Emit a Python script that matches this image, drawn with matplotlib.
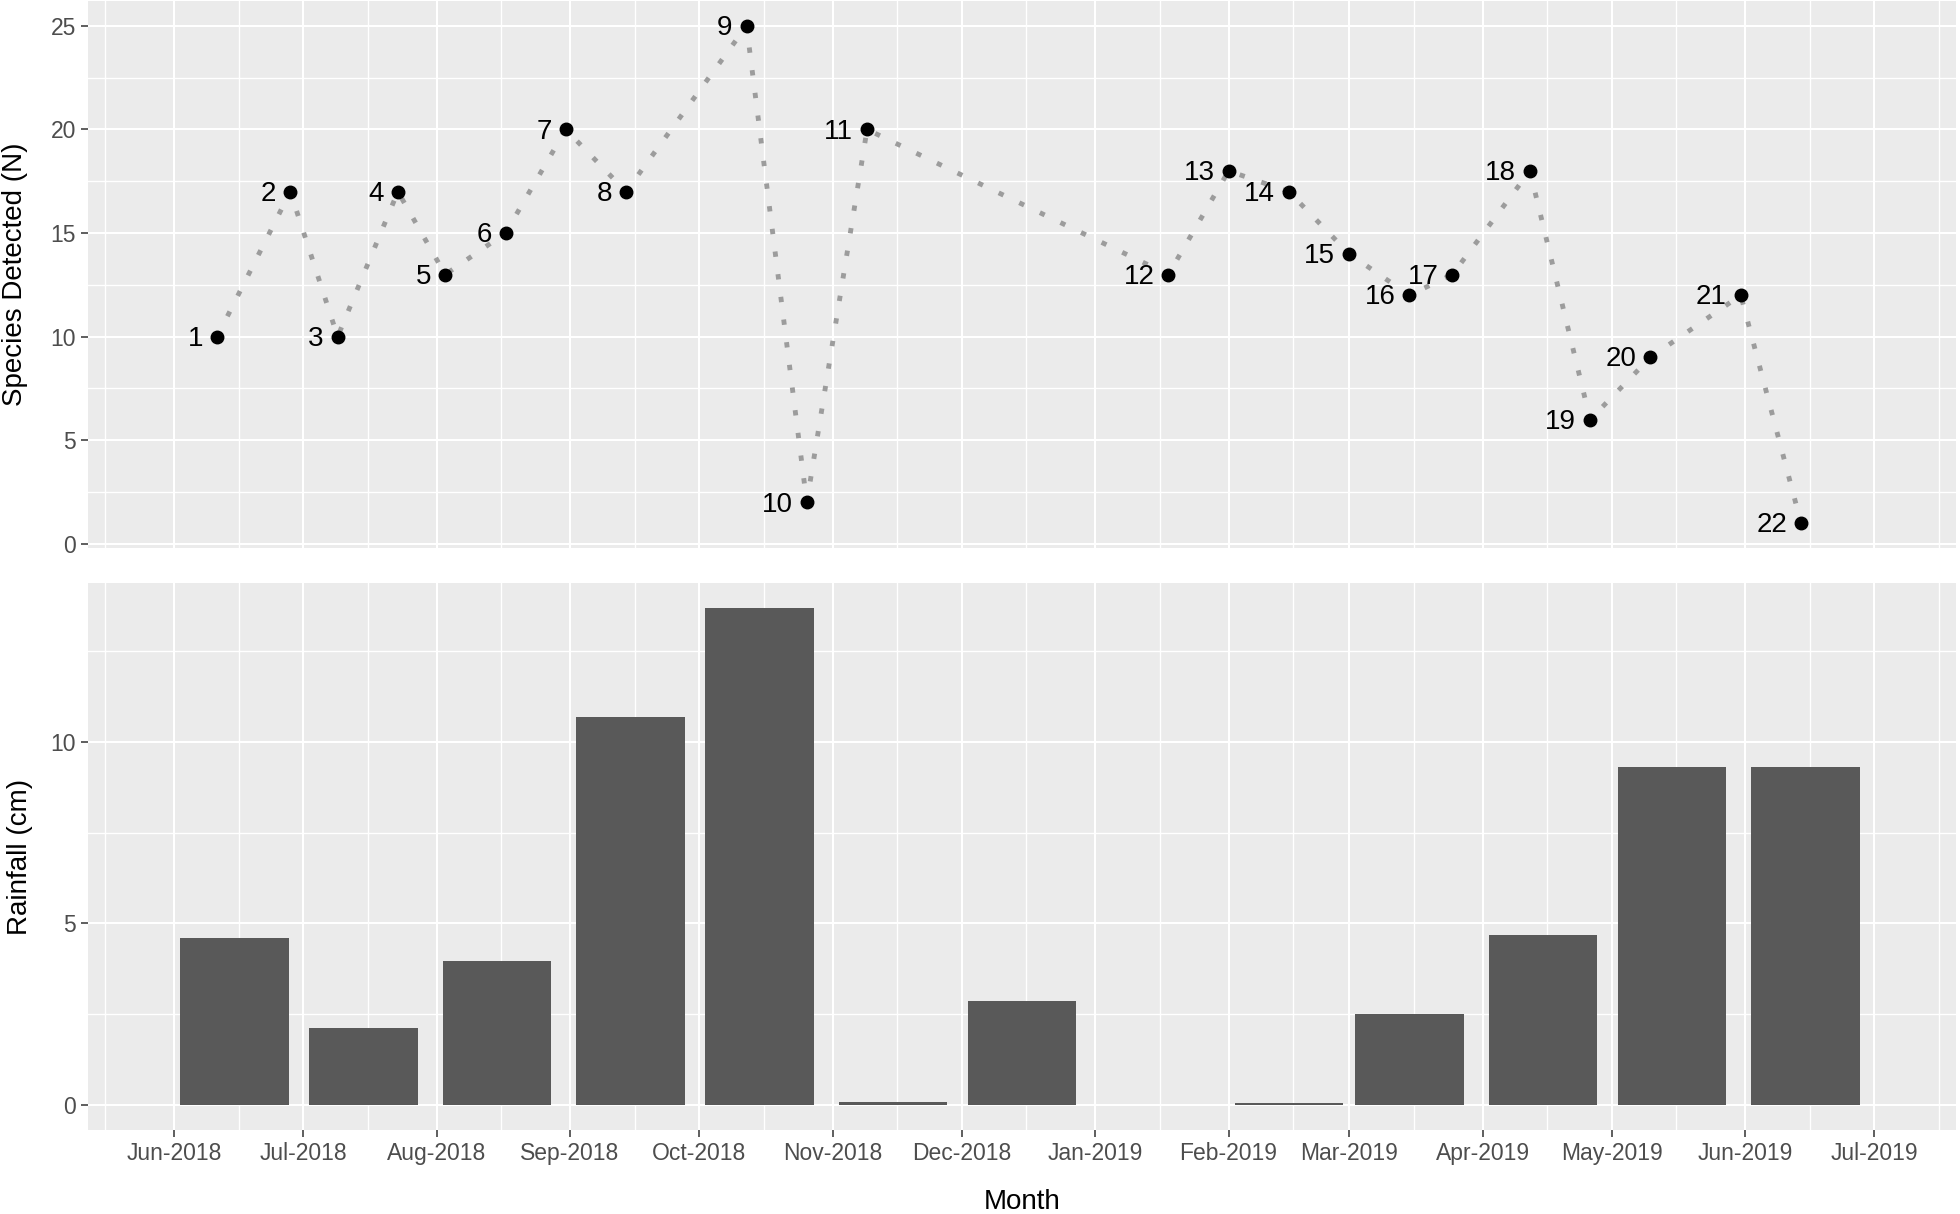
import numpy as np
import pandas as pd
import matplotlib
matplotlib.use("Agg")
import matplotlib.pyplot as plt
import matplotlib.dates as mdates
from matplotlib.ticker import MultipleLocator

plt.rcParams["font.family"] = ["Liberation Sans", "DejaVu Sans"]

# survey visits: date, number of species detected, visit number
survey_dates = ["2018-06-11", "2018-06-28", "2018-07-09", "2018-07-23", "2018-08-03",
                "2018-08-17", "2018-08-31", "2018-09-14", "2018-10-12", "2018-10-26",
                "2018-11-09", "2019-01-18", "2019-02-01", "2019-02-15", "2019-03-01",
                "2019-03-15", "2019-03-25", "2019-04-12", "2019-04-26", "2019-05-10",
                "2019-05-31", "2019-06-14"]
species_counts = [10, 17, 10, 17, 13, 15, 20, 17, 25, 2, 20,
                  13, 18, 17, 14, 12, 13, 18, 6, 9, 12, 1]
visit_labels = ["1", "2", "3", "4", "5", "6", "7", "8", "9", "10", "11",
                "12", "13", "14", "15", "16", "17", "18", "19", "20", "21", "22"]

# monthly rainfall (bars drawn mid-month)
rain_months = ["2018-06-15", "2018-07-15", "2018-08-15", "2018-09-15", "2018-10-15",
               "2018-11-15", "2018-12-15", "2019-01-15", "2019-02-15", "2019-03-15",
               "2019-04-15", "2019-05-15", "2019-06-15"]
rainfall_cm = [4.61, 2.12, 3.96, 10.68, 13.68, 0.09, 2.87, 0.0, 0.06, 2.51, 4.67, 9.29, 9.29]

x_start = "2018-05-12"
x_end = "2019-07-20"

PANEL = "#EBEBEB"
TICK_TXT = "#4D4D4D"
TICK_LINE = "#333333"


def style_axis(ax):
    ax.set_facecolor(PANEL)
    for s in ax.spines.values():
        s.set_visible(False)
    ax.xaxis.set_major_locator(mdates.MonthLocator())
    ax.xaxis.set_minor_locator(mdates.MonthLocator(bymonthday=16))
    ax.xaxis.set_major_formatter(mdates.DateFormatter("%b-%Y"))
    ax.yaxis.set_major_locator(MultipleLocator(5))
    ax.yaxis.set_minor_locator(MultipleLocator(2.5))
    ax.grid(which="major", color="white", linewidth=1.5)
    ax.grid(which="minor", color="white", linewidth=1.0)
    ax.set_axisbelow(True)
    ax.tick_params(which="major", length=5, width=1.1, color=TICK_LINE,
                   labelsize=16.5, labelcolor=TICK_TXT, pad=3.5)
    ax.tick_params(which="minor", length=0)
    ax.set_xlim(mdates.date2num(pd.Timestamp(x_start)), mdates.date2num(pd.Timestamp(x_end)))


fig = plt.figure(figsize=(19.6, 12.14), dpi=100)
W, H = 1960, 1214
ax1 = fig.add_axes([88 / W, (H - 548) / H, 1868 / W, 547 / H])
ax2 = fig.add_axes([88 / W, (H - 1130) / H, 1868 / W, 547 / H])

# top panel: species detected
sx = mdates.date2num(pd.to_datetime(survey_dates))
style_axis(ax1)
ax1.plot(sx, species_counts, color="#9C9C9C", linewidth=3.5,
         linestyle=(0, (1.1, 3.6)), zorder=2)
ax1.plot(sx, species_counts, "o", color="black", markersize=9, zorder=3)
for xv, yv, lab in zip(sx, species_counts, visit_labels):
    ax1.annotate(lab, xy=(xv, yv), xytext=(-10, -1.5), textcoords="offset points",
                 ha="right", va="center", fontsize=20, color="black")
lo, hi = min(species_counts), max(species_counts)
pad = 0.05 * (hi - lo)
ax1.set_ylim(lo - pad, hi + pad)
ax1.tick_params(axis="x", which="both", length=0, labelbottom=False)
ax1.set_ylabel("Species Detected (N)", fontsize=20)
ax1.yaxis.set_label_coords(-0.032, 0.5)

# bottom panel: rainfall
rx = mdates.date2num(pd.to_datetime(rain_months))
style_axis(ax2)
ax2.bar(rx, rainfall_cm, width=25.2, color="#595959", zorder=2)
rhi = max(rainfall_cm)
ax2.set_ylim(-0.05 * rhi, rhi * 1.05)
ax2.set_ylabel("Rainfall (cm)", fontsize=20)
ax2.yaxis.set_label_coords(-0.0295, 0.5)
ax2.set_xlabel("Month", fontsize=20)
ax2.xaxis.set_label_coords(0.5, -0.108)

fig.savefig("out.png", dpi=100)
